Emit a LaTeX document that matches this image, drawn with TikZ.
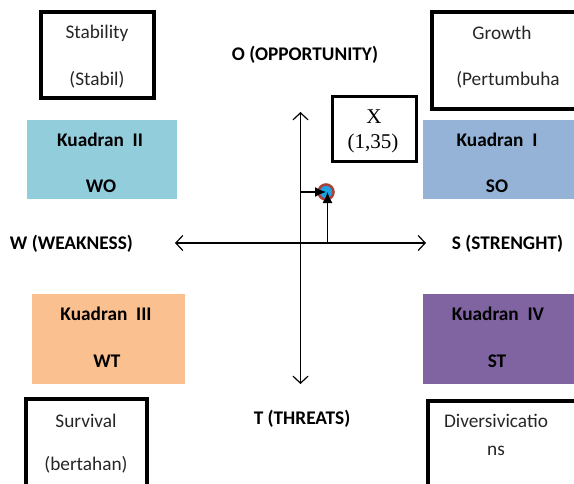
\documentclass[tikz,border=0pt]{standalone}
\usepackage{fontspec}
\setmainfont{Carlito}
\newfontfamily\timesfont{Liberation Serif}
\usepackage{xcolor}
\usetikzlibrary{arrows.meta}

\definecolor{quadOne}{HTML}{95B3D7}
\definecolor{quadTwo}{HTML}{92CDDC}
\definecolor{quadThree}{HTML}{FAC090}
\definecolor{quadFour}{HTML}{8064A2}
\definecolor{ptRed}{HTML}{A8423C}
\definecolor{ptBlue}{HTML}{1AA3E0}
\definecolor{txtGray}{HTML}{262626}

\tikzset{
  stratbox/.style={draw=black,line width=3.5pt},
  txt/.style={inner sep=0.75pt,text=txtGray,font=\fontsize{19.3}{22}\selectfont},
  boldtxt/.style={txt,text=black,font=\fontsize{19.3}{22}\selectfont\bfseries},
  axis/.style={line width=1.2pt,{Straight Barb[length=7pt,width=15pt]}-{Straight Barb[length=7pt,width=15pt]}},
  pointmark/.style={circle,fill=ptBlue,draw=ptRed,line width=2.6pt,minimum size=15pt,inner sep=0pt},
  guide/.style={line width=1.3pt,-{Latex[length=11pt,width=10pt]}}
}

\begin{document}
\begin{tikzpicture}[x=1pt,y=1pt,yscale=-1,xscale=1]
\useasboundingbox (0,0) rectangle (574,483);
\clip (0,0) rectangle (574,483);

% strategy boxes
\draw[stratbox] (41,12) -- (154,12) -- (154,98) -- (41,98) -- cycle ;
\draw[stratbox] (432,12) -- (580,12) -- (580,109) -- (432,109) -- cycle ;
\draw[stratbox] (26,399) -- (147,399) -- (147,490) -- (26,490) -- cycle ;
\draw[stratbox] (428,401) -- (580,401) -- (580,490) -- (428,490) -- cycle ;

% quadrants
\fill[quadTwo]   (27,120) -- (177,120) -- (177,199) -- (27,199) -- cycle ;
\fill[quadOne]   (423,120) -- (574,120) -- (574,199) -- (423,199) -- cycle ;
\fill[quadThree] (32,294) -- (185,294) -- (185,384) -- (32,384) -- cycle ;
\fill[quadFour]  (423,294) -- (574,294) -- (574,384) -- (423,384) -- cycle ;

% X box
\draw[line width=3pt] (332,96) -- (416,96) -- (416,161) -- (332,161) -- cycle ;

\node[txt] (stab1) at (97,33) {Stability};
\node[txt] (stab2) at (97,80) {(Stabil)};
\node[txt] (grow1) at (502,33) {Growth};
\node[txt] (grow2) at (508,80) {(Pertumbuha};
\node[txt] (surv1) at (86,421) {Survival};
\node[txt] (surv2) at (86,465) {(bertahan)};
\node[txt] (divr1) at (496,421) {Diversivicatio};
\node[txt] (divr2) at (496,451) {ns};

\node[boldtxt] (kd2) at (100,140) {Kuadran\ \ II};
\node[boldtxt] (wo)  at (101,186) {WO};
\node[boldtxt] (kd1) at (497,140) {Kuadran\ \ I};
\node[boldtxt] (so)  at (497,186) {SO};
\node[boldtxt] (kd3) at (106,314) {Kuadran\ \ III};
\node[boldtxt] (wt)  at (107,361) {WT};
\node[boldtxt] (kd4) at (498,314) {Kuadran\ \ IV};
\node[boldtxt] (st)  at (497,361) {ST};

\node[boldtxt] (opp) at (305,55) {O (OPPORTUNITY)};
\node[boldtxt] (thr) at (302,419) {T (THREATS)};
\node[boldtxt,anchor=west] (weak) at (9,244) {W (WEAKNESS)};
\node[boldtxt,anchor=west] (str)  at (451,244) {S (STRENGHT)};

\node[txt,text=black,font=\fontsize{21}{24}\timesfont] (xname) at (374,117) {X};
\node[txt,text=black,font=\fontsize{21}{24}\timesfont] (xval)  at (373,143) {(1,35)};

% axes
\coordinate (wEnd) at (175,243);
\coordinate (sEnd) at (426,243);
\coordinate (oEnd) at (300.5,112);
\coordinate (tEnd) at (300.5,384);
\draw[axis] (wEnd) -- (sEnd);
\draw[axis] (oEnd) -- (tEnd);

% position point
\node[pointmark] (ptX) at (326,192) {};
\coordinate (hFoot) at (300.5,192);
\coordinate (vFoot) at (327.5,243);
\draw[guide] (hFoot) -- (ptX.center);
\draw[guide] (vFoot) -- ([xshift=1.5pt]ptX.center);
\end{tikzpicture}
\end{document}
